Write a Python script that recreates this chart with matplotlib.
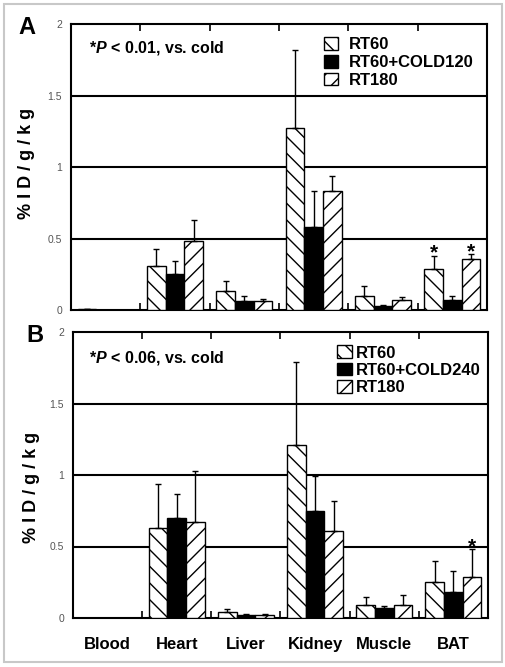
import numpy as np
import matplotlib
matplotlib.use("Agg")
import matplotlib.pyplot as plt
from matplotlib.patches import Rectangle

plt.rcParams['font.family'] = ['Liberation Sans', 'DejaVu Sans']
plt.rcParams['mathtext.fontset'] = 'custom'
plt.rcParams['mathtext.it'] = 'Liberation Sans:italic:bold'
plt.rcParams['hatch.linewidth'] = 1.0

# tissues
tissues = ['Blood', 'Heart', 'Liver', 'Kidney', 'Muscle', 'BAT']

# panel A (mean, upper sd)
a_rt60 = [0.01, 0.31, 0.13, 1.27, 0.10, 0.29]
a_rt60_sd = [0, 0.12, 0.07, 0.55, 0.07, 0.09]
a_cold = [0, 0.25, 0.06, 0.58, 0.03, 0.07]
a_cold_sd = [0, 0.09, 0.04, 0.25, 0.005, 0.03]
a_rt180 = [0, 0.48, 0.06, 0.83, 0.07, 0.36]
a_rt180_sd = [0, 0.15, 0.02, 0.11, 0.02, 0.03]

# panel B
b_rt60 = [0, 0.63, 0.04, 1.21, 0.09, 0.25]
b_rt60_sd = [0, 0.31, 0.02, 0.58, 0.06, 0.15]
b_cold = [0, 0.70, 0.02, 0.75, 0.07, 0.18]
b_cold_sd = [0, 0.17, 0.005, 0.24, 0.015, 0.15]
b_rt180 = [0, 0.67, 0.02, 0.61, 0.09, 0.29]
b_rt180_sd = [0, 0.36, 0.005, 0.21, 0.07, 0.19]

W, H = 506, 667
fig = plt.figure(figsize=(W / 100, H / 100), dpi=100)
fig.patches.append(Rectangle((4 / W, 5 / H), 498 / W, 658 / H, transform=fig.transFigure,
                             fill=False, edgecolor='#c8c8c8', linewidth=1.5))


def panel(rect, means, sds, names, ptext, stars, leg_anchor, textpad, spacing, show_x):
    ax = fig.add_axes([rect[0] / W, 1 - rect[3] / H, (rect[2] - rect[0]) / W, (rect[3] - rect[1]) / H])
    x = np.arange(len(tissues))
    offs = [-0.27, 0, 0.27]
    styles = [dict(color='white', hatch='\\\\'), dict(color='black', hatch=None),
              dict(color='white', hatch='//')]
    handles = []
    for k in range(3):
        b = ax.bar(x + offs[k], means[k], 0.27, facecolor=styles[k]['color'],
                   edgecolor='black', hatch=styles[k]['hatch'], linewidth=1, zorder=3)
        handles.append(b)
        ax.errorbar(x + offs[k], means[k], yerr=[np.zeros(len(x)), sds[k]], fmt='none',
                    ecolor='black', elinewidth=1, capsize=2.5, capthick=1, zorder=4)
    # significance stars
    for k, i in stars:
        ax.annotate('*', (i + offs[k], means[k][i] + sds[k][i]), xytext=(0, -5),
                    textcoords='offset points', ha='center', va='bottom',
                    fontsize=15, fontweight='bold', zorder=5)
    ax.set_xlim(-0.5, 5.5)
    ax.set_ylim(0, 2)
    for yv in [0.5, 1, 1.5]:
        ax.axhline(yv, color='black', linewidth=1.5, zorder=1)
    ax.set_yticks([0, 0.5, 1, 1.5, 2])
    ax.set_yticklabels(['0', '0.5', '1', '1.5', '2'])
    ax.tick_params(axis='y', length=0, pad=6.5, labelsize=7.5, labelcolor='#555555')
    ax.set_xticks(np.arange(0.5, 5.5, 1))
    ax.set_xticklabels([])
    ax.tick_params(axis='x', which='major', direction='in', top=True, bottom=True,
                   length=5, width=1.2)
    if show_x:
        ax.set_xticks(x, minor=True)
        ax.set_xticklabels(tissues, minor=True)
        ax.tick_params(axis='x', which='minor', length=0, pad=13.5, labelsize=12)
        for t in ax.get_xticklabels(minor=True):
            t.set_fontweight('bold')
    for s in ax.spines.values():
        s.set_linewidth(1.5)
    ax.text(ptext[0], ptext[1], ptext[2], transform=ax.transAxes, ha='left', va='center',
            fontsize=11.5, fontweight='bold')
    ax.legend(handles, names, loc='upper left', bbox_to_anchor=leg_anchor, frameon=False,
              borderpad=0, handlelength=0.85, handleheight=0.8, handletextpad=textpad,
              labelspacing=spacing, prop=dict(size=12, weight='bold'))
    return ax


panel((71, 24, 487, 310), [a_rt60, a_cold, a_rt180], [a_rt60_sd, a_cold_sd, a_rt180_sd],
      ['RT60', 'RT60+COLD120', 'RT180'], (0.043, 0.916, r'*$P$ < 0.01, vs. cold'),
      [(0, 5), (2, 5)], (0.587, 0.983), 0.66, 0.15, False)
panel((73, 332, 488, 618), [b_rt60, b_cold, b_rt180], [b_rt60_sd, b_cold_sd, b_rt180_sd],
      ['RT60', 'RT60+COLD240', 'RT180'], (0.039, 0.909, r'*$P$ < 0.06, vs. cold'),
      [(2, 5)], (0.617, 0.982), 0.25, 0.12, True)

fig.text(27 / W, 1 - 27 / H, 'A', ha='center', va='center', fontsize=17, fontweight='bold')
fig.text(35 / W, 1 - 335 / H, 'B', ha='center', va='center', fontsize=17, fontweight='bold')
fig.text(27 / W, 1 - 163 / H, '% I D / g / k g', rotation=90, ha='center', va='center',
         fontsize=13, fontweight='bold')
fig.text(32 / W, 1 - 487 / H, '% I D / g / k g', rotation=90, ha='center', va='center',
         fontsize=13, fontweight='bold')

fig.savefig('out.png', dpi=100)
